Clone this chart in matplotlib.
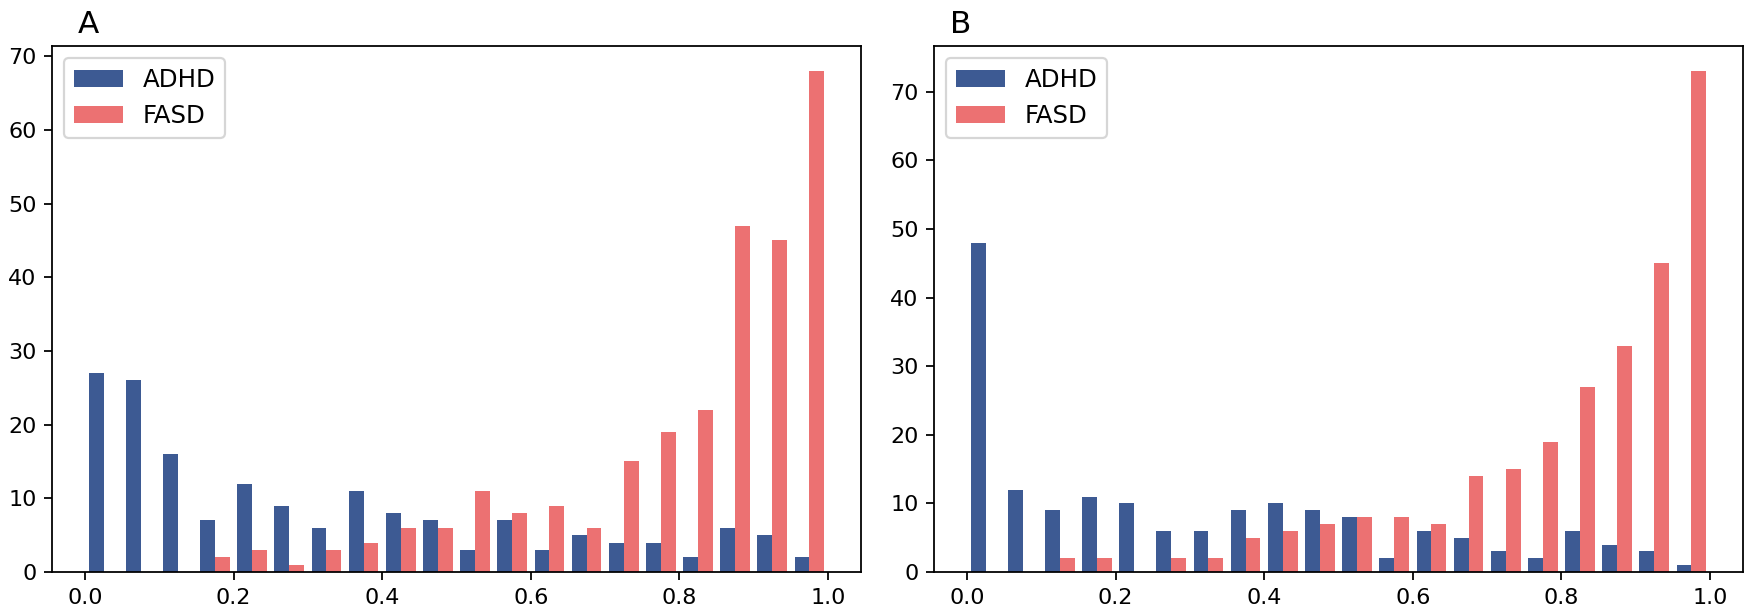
import numpy as np
import matplotlib
matplotlib.use("Agg")
import matplotlib.pyplot as plt

bin_edges = np.linspace(0.0, 1.0, 21)
series_names = ["ADHD", "FASD"]
panel_labels = ["A", "B"]

a_adhd = [27, 26, 16, 7, 12, 9, 6, 11, 8, 7, 3, 7, 3, 5, 4, 4, 2, 6, 5, 2]
a_fasd = [0, 0, 0, 2, 3, 1, 3, 4, 6, 6, 11, 8, 9, 6, 15, 19, 22, 47, 45, 68]

b_adhd = [48, 12, 9, 11, 10, 6, 6, 9, 10, 9, 8, 2, 6, 5, 3, 2, 6, 4, 3, 1]
b_fasd = [0, 0, 2, 2, 0, 2, 2, 5, 6, 7, 8, 8, 7, 14, 15, 19, 27, 33, 45, 73]

colors = ["#3d5a93", "#ec7172"]

DPI = 160
fig = plt.figure(figsize=(1750 / DPI, 616 / DPI), dpi=DPI)

W, H = 1750.0, 616.0
positions = [
    [52 / W, (H - 572) / H, (861 - 52) / W, (572 - 46) / H],
    [934 / W, (H - 572) / H, (1743 - 934) / W, (572 - 46) / H],
]
label_pos = [(78 / W, (H - 33) / H), (950 / W, (H - 33) / H)]

centers = 0.5 * (bin_edges[:-1] + bin_edges[1:])
panels = [(a_adhd, a_fasd), (b_adhd, b_fasd)]

for i, (adhd, fasd) in enumerate(panels):
    ax = fig.add_axes(positions[i])
    ax.hist([centers, centers], bins=bin_edges,
            weights=[np.array(adhd, float), np.array(fasd, float)],
            color=colors, label=series_names)
    ax.set_xticks([0.0, 0.2, 0.4, 0.6, 0.8, 1.0])
    ax.tick_params(labelsize=10)
    ax.legend(loc="upper left", fontsize=11)
    fig.text(label_pos[i][0], label_pos[i][1], panel_labels[i],
             fontsize=14, ha="left", va="baseline")

fig.savefig("out.png", dpi=DPI)
